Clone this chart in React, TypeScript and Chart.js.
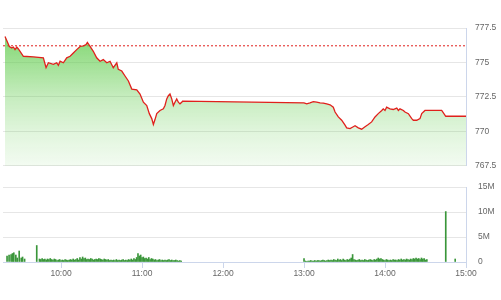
import React, { useEffect, useRef } from "react";
import { Chart, registerables } from "chart.js";

Chart.register(...registerables);

// Times are minutes since midnight
const priceTimes = [
  558.5, 561.7, 563.5, 564.7, 565.9, 567.2, 568.4, 572.1, 579.5, 586.9, 588.9, 590.6, 594.3, 596.8, 598, 599.3,
  601.7, 604.2, 606.7, 609.1, 611.6, 614.1, 616.5, 618.5, 619.5, 621.5, 623.9, 626.4, 628.9, 631.3, 633.9, 636.3,
  638.7, 641.3, 642.4, 645, 647.4, 649.9, 652.4, 656.1, 658.5, 661, 663.5, 665.4, 667.2, 668.4, 669.6, 670.9,
  673.3, 675.8, 677, 678.3, 679.5, 680.7, 682, 683.2, 684.4, 685.7, 686.9, 688.1, 689.4, 690,
  780, 782, 784.4, 786.9, 789.4, 791.9, 794.3, 796.8, 799.3, 801.7, 803, 805.4, 807.9, 810.4, 811.6, 814.1,
  816.5, 817.8, 820.2, 822.7, 825.2, 827.6, 830.1, 832.6, 835, 837.6, 838.7, 840, 841.2, 843.7, 846.1, 848.7,
  849.9, 851.1, 853.6, 854.8, 857.3, 859.8, 861, 863.5, 865.9, 867.2, 869.6, 882, 885, 900,
];
const priceValues = [
  776.88, 776.16, 776.05, 776.12, 775.93, 776.12, 775.98, 775.45, 775.41, 775.34, 774.62, 774.98, 774.86, 774.98, 774.79, 775.09,
  774.98, 775.34, 775.45, 775.69, 775.93, 776.16, 776.21, 776.29, 776.45, 776.16, 775.81, 775.34, 775.09, 775.21, 774.98, 775.09,
  774.62, 774.98, 774.5, 774.38, 774.02, 773.66, 773.07, 773.02, 772.71, 772.12, 771.88, 771.29, 770.93, 770.5, 770.86, 771.29,
  771.52, 771.64, 771.88, 772.36, 772.59, 772.71, 772.36, 771.88, 772.12, 772.36, 772.12, 772.0, 772.12, 772.19,
  772.07, 772.0, 772.07, 772.16, 772.12, 772.07, 772.05, 772.0, 771.93, 771.76, 771.41, 771.05, 770.81, 770.45, 770.26, 770.21,
  770.34, 770.41, 770.26, 770.16, 770.34, 770.5, 770.69, 771.05, 771.29, 771.52, 771.64, 771.52, 771.76, 771.64, 771.59, 771.69,
  771.52, 771.64, 771.52, 771.41, 771.29, 770.93, 770.81, 770.81, 770.93, 771.29, 771.52, 771.52, 771.1, 771.1,
];
const referencePrice = 776.21;

// Volumes (millions)
const volOpenTimes = [560, 561.5, 563, 564, 565, 566.5, 567.5, 569, 570.5, 571.5, 573, 582];
const volOpenValues = [1.2, 1.4, 1.5, 1.7, 1.85, 1.4, 0.8, 2.2, 0.8, 1.0, 0.6, 3.3];
const volMorningStart = 584;
const volMorning = [
  0.6, 0.5, 0.7, 0.5, 0.6, 0.4, 0.6, 0.5, 0.7, 0.5, 0.4, 0.6, 0.5, 0.3, 0.4, 0.5,
  0.3, 0.4, 0.3, 0.5, 0.4, 0.3, 0.4, 0.5, 0.4, 0.6, 0.4, 0.5, 0.7, 0.4,
  0.9, 0.6, 1.0, 0.7, 0.8, 0.5,
  0.6, 0.5, 0.7, 0.6, 0.4, 0.5, 0.6, 0.5, 0.7, 0.6, 0.5, 0.4, 0.6, 0.5, 0.4, 0.5, 0.3,
  0.4, 0.3, 0.4, 0.3, 0.5, 0.3, 0.4, 0.3, 0.4, 0.5, 0.3, 0.4, 0.3, 0.5, 0.4, 0.6, 0.4, 0.7, 0.5, 0.9,
  1.7, 1.2, 1.4, 0.9, 1.0, 0.7, 0.8, 0.6, 0.9, 0.5, 0.7, 0.6,
  0.4, 0.5, 0.3, 0.4, 0.5, 0.3, 0.4, 0.3, 0.4, 0.3, 0.4, 0.5, 0.3, 0.4, 0.3, 0.3, 0.4, 0.3, 0.2, 0.3, 0.2,
];
const volAfternoonStart = 780;
const volAfternoon = [
  0.7,
  0.2, 0.1, 0.2, 0.2, 0.3, 0.2, 0.2, 0.3, 0.2, 0.3, 0.3, 0.2, 0.3, 0.4, 0.3, 0.2, 0.3, 0.4, 0.3, 0.4,
  0.3, 0.5, 0.4, 0.3, 0.6, 0.4, 0.5, 0.3, 0.6, 0.4, 0.3, 0.5, 0.4, 0.6, 0.8,
  1.5,
  0.5, 0.4, 0.3, 0.4, 0.5, 0.3, 0.4, 0.3, 0.5, 0.4, 0.3, 0.4, 0.5, 0.4, 0.3, 0.5, 0.4, 0.6,
  0.8, 0.6, 0.7, 0.5,
  0.4, 0.3, 0.5, 0.4, 0.3, 0.4, 0.3, 0.5, 0.4, 0.4, 0.3, 0.5, 0.4, 0.6, 0.4, 0.5, 0.4, 0.6, 0.5, 0.4, 0.6, 0.5,
  0.7, 0.6, 0.8, 0.6, 0.7, 0.5, 0.8, 0.6, 0.7, 0.4, 0.5,
];
const volCloseTimes = [885, 892];
const volCloseValues = [10.1, 0.6];

const hourTicks = [600, 660, 720, 780, 840, 900];
const priceTicks = [767.5, 770, 772.5, 775, 777.5];
const volTicks = [0, 5, 10, 15];

const X_MIN = 557;
const X_MAX = 900;
const FONT = { family: "'Liberation Sans', Arial, sans-serif", size: 8.5 };
const LABEL_COLOR = "#666666";
const GRID = "#e6e6e6";
const BORDER = "#ccd6eb";

function fmtTime(m: number) {
  const h = Math.floor(m / 60);
  const mm = Math.round(m - h * 60);
  return `${h < 10 ? "0" + h : h}:${mm < 10 ? "0" + mm : mm}`;
}

export default function App() {
  const topRef = useRef<HTMLCanvasElement>(null);
  const botRef = useRef<HTMLCanvasElement>(null);

  useEffect(() => {
    const priceData = priceTimes.map((t, i) => ({ x: t, y: priceValues[i] }));
    const refData = [
      { x: X_MIN, y: referencePrice },
      { x: X_MAX, y: referencePrice },
    ];
    const top = new Chart(topRef.current!, {
      type: "line",
      data: {
        datasets: [
          {
            data: priceData,
            borderColor: "#e0201c",
            borderWidth: 1.3,
            pointRadius: 0,
            tension: 0,
            fill: "start",
            backgroundColor: (ctx: any) => {
              const chart = ctx.chart;
              const ca = chart.chartArea;
              if (!ca) return "rgba(100,205,80,0.4)";
              const g = chart.ctx.createLinearGradient(0, ca.top, 0, ca.bottom);
              g.addColorStop(0, "rgba(100,205,80,0.85)");
              g.addColorStop(0.5, "rgba(100,205,80,0.37)");
              g.addColorStop(0.75, "rgba(100,205,80,0.2)");
              g.addColorStop(1, "rgba(100,205,80,0.08)");
              return g;
            },
          },
          {
            data: refData,
            borderColor: "#e0201c",
            borderWidth: 1,
            borderDash: [2, 2],
            pointRadius: 0,
            fill: false,
          },
        ],
      },
      options: {
        animation: false,
        responsive: false,
        devicePixelRatio: 1,
        layout: { padding: { top: 28, left: 3, right: 0, bottom: 12 } },
        plugins: { legend: { display: false }, tooltip: { enabled: false } },
        scales: {
          x: { type: "linear", min: X_MIN, max: X_MAX, display: false },
          y: {
            position: "right",
            min: 767.5,
            max: 777.5,
            afterBuildTicks: (s: any) => {
              s.ticks = priceTicks.map((v) => ({ value: v }));
            },
            afterFit: (s: any) => {
              s.width = 35;
            },
            grid: { color: GRID, drawTicks: false, lineWidth: 1 },
            border: { display: true, color: BORDER },
            ticks: { font: FONT, color: LABEL_COLOR, padding: 9 },
          },
        },
      },
    });

    const volData: { x: number; y: number }[] = [];
    volOpenTimes.forEach((t, i) => volData.push({ x: t, y: volOpenValues[i] }));
    volMorning.forEach((v, i) => volData.push({ x: volMorningStart + i, y: v }));
    volAfternoon.forEach((v, i) => volData.push({ x: volAfternoonStart + i, y: v }));
    volCloseTimes.forEach((t, i) => volData.push({ x: t, y: volCloseValues[i] }));

    const bot = new Chart(botRef.current!, {
      type: "bar",
      data: {
        datasets: [
          {
            data: volData,
            backgroundColor: "#3a963a",
            barThickness: 1,
            grouped: false,
          } as any,
        ],
      },
      options: {
        animation: false,
        responsive: false,
        devicePixelRatio: 1,
        layout: { padding: { top: 11, left: 3, right: 0, bottom: 0 } },
        plugins: { legend: { display: false }, tooltip: { enabled: false } },
        scales: {
          x: {
            type: "linear",
            min: X_MIN,
            max: X_MAX,
            offset: false,
            afterBuildTicks: (s: any) => {
              s.ticks = hourTicks.map((v) => ({ value: v }));
            },
            afterFit: (s: any) => {
              s.height = 38;
            },
            grid: { offset: false, drawOnChartArea: false, drawTicks: true, tickLength: 6, tickColor: BORDER },
            border: { display: true, color: BORDER },
            ticks: {
              font: FONT,
              color: LABEL_COLOR,
              padding: 1,
              autoSkip: false,
              maxRotation: 0,
              callback: (v: any) => fmtTime(Number(v)),
            },
          },
          y: {
            position: "right",
            min: 0,
            max: 15,
            afterBuildTicks: (s: any) => {
              s.ticks = volTicks.map((v) => ({ value: v }));
            },
            afterFit: (s: any) => {
              s.width = 35;
            },
            grid: { color: GRID, drawTicks: false },
            border: { display: true, color: BORDER },
            ticks: {
              font: FONT,
              color: LABEL_COLOR,
              padding: 12,
              callback: (v: any) => (Number(v) === 0 ? "0" : `${v}M`),
            },
          },
        },
      },
    });

    return () => {
      top.destroy();
      bot.destroy();
    };
  }, []);

  return (
    <div style={{ position: "fixed", left: 0, top: 0, width: 501, height: 300, background: "#fff" }}>
      <canvas ref={topRef} width={501} height={180} style={{ position: "absolute", left: 0, top: 0 }} />
      <canvas ref={botRef} width={501} height={130} style={{ position: "absolute", left: 0, top: 170 }} />
    </div>
  );
}
